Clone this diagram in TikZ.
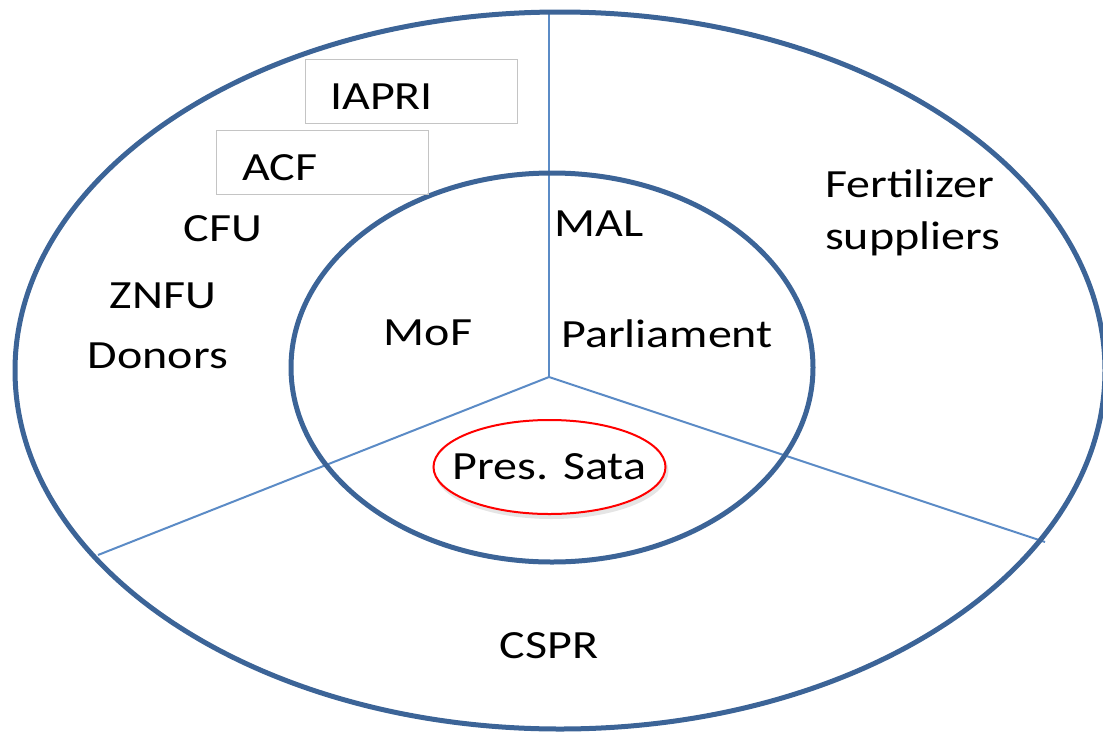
\documentclass[tikz,border=0pt]{standalone}
\usepackage{fontspec}
\setmainfont{Carlito}[FakeStretch=1.2]
\usetikzlibrary{shapes.geometric}
\definecolor{ringblue}{HTML}{3C6497}
\definecolor{lineblue}{HTML}{5B8BC6}
\definecolor{boxgray}{HTML}{C4C4C4}
\tikzset{
  ring/.style={draw=ringblue, line width=5pt},
  divider/.style={draw=lineblue, line width=2pt},
  lbl/.style={font=\fontsize{40}{44}\selectfont, inner sep=0pt, text=black},
  tagbox/.style={draw=boxgray, line width=1pt, minimum width=212pt, minimum height=64pt,
    inner sep=0pt},
  redring/.style={draw=red, line width=2pt, fill=white}
}
\begin{document}
\begin{tikzpicture}[x=1pt,y=-1pt]
\useasboundingbox (0,0) rectangle (1103,734);
% dividers
\coordinate (c) at (549,377);
\coordinate (top) at (549,12);
\coordinate (left) at (98,555);
\coordinate (right) at (1045,542);
\draw[divider] (c) -- (top);
\draw[divider] (c) -- (left);
\draw[divider] (c) -- (right);
% rings
\draw[ring] (560,370.5) ellipse [x radius=545pt, y radius=358.5pt];
\draw[ring] (552,367.5) ellipse [x radius=261pt, y radius=194.5pt];
% boxed labels
\node[tagbox] (iapribox) at (411,91) {};
\node[lbl, anchor=west] (iapri) at (330,96.5) {IAPRI};
\node[tagbox] (acfbox) at (322,162) {};
\node[lbl, anchor=west] (acf) at (242,167.5) {ACF};
% labels
\node[lbl] (cfu) at (223,229) {CFU};
\node[lbl] (znfu) at (163,296) {ZNFU};
\node[lbl] (donors) at (158,356) {Donors};
\node[lbl] (mof) at (428,333) {MoF};
\node[lbl] (mal) at (599,224) {MAL};
\node[lbl] (parl) at (667,334) {Parliament};
\node[lbl, align=left, anchor=north west, font=\fontsize{40}{52}\selectfont] (fert) at (825,170) {Fertilizer\\suppliers};
\coordinate (satac) at (549.5,467);
\fill[black, opacity=0.10] ([xshift=2pt,yshift=-4pt]satac) ellipse [x radius=117pt, y radius=48pt];
\draw[redring] (satac) ellipse [x radius=116pt, y radius=47pt];
\node[lbl] (sata) at (satac) {Pres. Sata};
\node[lbl] (cspr) at (549,646) {CSPR};
\end{tikzpicture}
\end{document}
